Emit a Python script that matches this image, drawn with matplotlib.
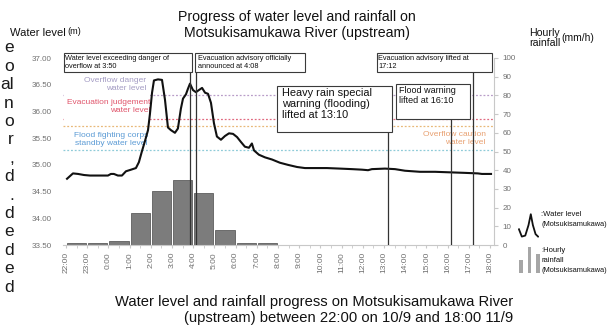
import matplotlib
matplotlib.use("Agg")
import matplotlib.pyplot as plt
import matplotlib.transforms as mtransforms
from matplotlib.patches import Rectangle

plt.rcParams['font.family'] = ['Liberation Sans', 'DejaVu Sans']

# hourly axis, hours counted from 22:00 on 10/9
hour_labels = ['22:00', '23:00', '0:00', '1:00', '2:00', '3:00', '4:00', '5:00',
               '6:00', '7:00', '8:00', '9:00', '10:00', '11:00', '12:00', '13:00',
               '14:00', '15:00', '16:00', '17:00', '18:00']

# hourly rainfall (mm/h), one value per hour interval
rain_mm = [1, 1, 2, 17, 29, 35, 28, 8, 1, 1,
           0, 0, 0, 0, 0, 0, 0, 0, 0, 0]

# water level readings (hours after 22:00, metres)
level_hours = [0.05, 0.33, 0.57, 0.85, 1.13, 1.60, 1.98, 2.12, 2.26, 2.45,
               2.64, 2.83, 3.07, 3.30, 3.44, 3.58, 3.73, 3.87, 3.96, 4.06,
               4.15, 4.34, 4.53, 4.67, 4.81, 4.95, 5.14, 5.28, 5.42, 5.52,
               5.66, 5.75, 5.85, 5.99, 6.13, 6.27, 6.42, 6.56, 6.70, 6.84,
               6.98, 7.12, 7.31, 7.50, 7.69, 7.88, 8.07, 8.25, 8.44, 8.63,
               8.77, 8.87, 9.10, 9.39, 9.72, 10.09, 10.47, 10.90, 11.27, 11.75,
               12.31, 12.92, 13.49, 13.96, 14.25, 14.43, 15.05, 15.52, 15.99, 16.70,
               17.41, 18.11, 18.82, 19.43, 19.62, 20.05]
level_m = [34.74, 34.84, 34.83, 34.81, 34.80, 34.80, 34.80, 34.83, 34.83, 34.80,
           34.80, 34.88, 34.91, 34.94, 35.05, 35.25, 35.45, 35.65, 35.95, 36.35,
           36.58, 36.60, 36.59, 36.22, 35.70, 35.65, 35.60, 35.68, 36.05, 36.24,
           36.32, 36.42, 36.52, 36.40, 36.36, 36.40, 36.44, 36.35, 36.33, 36.16,
           35.78, 35.53, 35.47, 35.54, 35.59, 35.58, 35.52, 35.43, 35.34, 35.32,
           35.40, 35.27, 35.19, 35.14, 35.10, 35.04, 35.00, 34.96, 34.94, 34.94,
           34.94, 34.93, 34.92, 34.91, 34.90, 34.92, 34.93, 34.92, 34.89, 34.87,
           34.87, 34.86, 34.85, 34.84, 34.83, 34.83]

# reference water levels (m)
overflow_danger = 36.31
evacuation_judgement = 35.86
overflow_caution = 35.73
flood_fighting_standby = 35.27

# events (hours after 22:00) and their notes
event_times = [5 + 50 / 60, 6 + 8 / 60, 15 + 10 / 60, 18 + 10 / 60, 19 + 12 / 60]
event_notes = ['Water level exceeding danger of\noverflow at 3:50',
               'Evacuation advisory officially\nannounced at 4:08',
               'Heavy rain special\nwarning (flooding)\nlifted at 13:10',
               'Flood warning\nlifted at 16:10',
               'Evacuation advisory lifted at\n17:12']

W, H = 607, 328
fig = plt.figure(figsize=(W / 100, H / 100), dpi=100)


def fx(x):
    return x / W


def fy(y):
    return 1 - y / H


ax = fig.add_axes([fx(63), fy(245), (494 - 63) / W, (245 - 58) / H])
ax2 = ax.twinx()
ax.set_zorder(ax2.get_zorder() + 1)
ax.patch.set_visible(False)

ax.set_xlim(-0.14, 20.19)
ax.set_ylim(33.5, 37.0)
ax2.set_ylim(0, 100)

# rainfall bars
bar_x = [i + 0.5 for i in range(len(rain_mm))]
ax2.bar(bar_x, rain_mm, width=0.9, color='#7c7c7c', edgecolor='#5e5e5e', linewidth=0.6)

# reference lines
dots = (0, (1.5, 1.5))
ax.axhline(overflow_danger, color='#b89cc8', ls=dots, lw=0.9, zorder=1)
ax.axhline(evacuation_judgement, color='#e06a80', ls=dots, lw=0.9, zorder=1)
ax.axhline(overflow_caution, color='#e8b878', ls=dots, lw=0.9, zorder=1)
ax.axhline(flood_fighting_standby, color='#8fcbd8', ls=dots, lw=0.9, zorder=1)

trans = mtransforms.blended_transform_factory(ax.transData, ax.transAxes)
ax.add_patch(Rectangle((-0.09, 0.658), 4.05, 0.267, transform=trans,
                       facecolor='white', edgecolor='none', zorder=2))

lbl = dict(fontsize=6.0, ha='right', va='center', linespacing=1.25, zorder=3)
ax.text(3.77, 36.51, 'Overflow danger\nwater level', color='#a49cc4', **lbl)
ax.text(3.96, 36.09, 'Evacuation judgement\nwater level', color='#e0566c', **lbl)
ax.text(2.15, 35.47, 'Flood fighting corps\nstandby water level', color='#5b9bd5',
        fontsize=6.0, ha='center', va='center', linespacing=1.25, zorder=3,
        bbox=dict(facecolor='white', edgecolor='none', pad=1))
ax.text(19.8, 35.50, 'Overflow caution\nwater level', color='#e8a070', **lbl)

# water level trace
ax.plot(level_hours, level_m, color='#111111', lw=1.5, zorder=4)

# event boxes: left, right (hours), top, bottom (axes fraction), font size, text pad
boxes = [(-0.09, 5.94, 1.027, 0.925, 5.35, 0.05),
         (6.08, 11.27, 1.027, 0.925, 5.35, 0.14),
         (9.95, 15.38, 0.850, 0.604, 7.9, 0.26),
         (15.57, 19.06, 0.861, 0.674, 6.5, 0.14),
         (14.67, 20.09, 1.027, 0.925, 5.35, 0.05)]
for t, note, (x0, x1, y1, y0, fs, pad) in zip(event_times, event_notes, boxes):
    ax.plot([t, t], [0, y0], transform=trans, color='#333333', lw=0.9, zorder=4)
    ax.add_patch(Rectangle((x0, y0), x1 - x0, y1 - y0, transform=trans,
                           facecolor='white', edgecolor='#3a3a3a', lw=0.8,
                           clip_on=False, zorder=6))
    ax.text(x0 + pad, y1 - 0.012, note, transform=trans, fontsize=fs,
            ha='left', va='top', linespacing=1.12, color='#111111', zorder=7)

# axes styling
for s in ['top', 'left', 'right']:
    ax.spines[s].set_visible(False)
for s in ['top', 'left', 'bottom']:
    ax2.spines[s].set_visible(False)
ax.spines['bottom'].set_color('#c8c8c8')
ax2.spines['right'].set_color('#c8c8c8')

tick_grey = '#707070'
ax.set_xticks(range(len(hour_labels)))
ax.set_xticklabels(hour_labels, rotation=90, fontsize=6.0, color=tick_grey)
ax.set_xticks([i + 0.5 for i in range(len(hour_labels) - 1)], minor=True)
ax.tick_params(axis='x', which='both', length=2, color='#c8c8c8', pad=3)

ax.set_yticks([33.5, 34.0, 34.5, 35.0, 35.5, 36.0, 36.5, 37.0])
ax.set_yticklabels(['%.2f' % v for v in ax.get_yticks()], fontsize=5.8, color=tick_grey)
ax.tick_params(axis='y', length=0, pad=8)

ax2.set_yticks(range(0, 101, 10))
ax2.set_yticklabels([str(v) for v in range(0, 101, 10)], fontsize=5.8, color=tick_grey)
ax2.tick_params(axis='y', length=3, color='#c8c8c8', pad=3)

# titles and axis captions
fig.text(fx(297), fy(25), 'Progress of water level and rainfall on\nMotsukisamukawa River (upstream)',
         ha='center', va='center', fontsize=10.2, linespacing=1.15, color='#111111')
fig.text(fx(10), fy(33), 'Water level', ha='left', va='center', fontsize=8.0, color='#111111')
fig.text(fx(67), fy(32), '(m)', ha='left', va='center', fontsize=6.6, color='#111111')
fig.text(fx(560), fy(38), 'Hourly\nrainfall', ha='right', va='center', fontsize=7.6,
         linespacing=1.05, color='#111111')
fig.text(fx(561), fy(38), '(mm/h)', ha='left', va='center', fontsize=7.4, color='#111111')
fig.text(fx(513), fy(310), 'Water level and rainfall progress on Motsukisamukawa River\n'
         '(upstream) between 22:00 on 10/9 and 18:00 11/9',
         ha='right', va='center', multialignment='right', fontsize=10.6,
         linespacing=1.15, color='#111111')

# legend glyphs
icon_line_x = [0.0, 0.15, 0.33, 0.5, 0.62, 0.73, 0.87, 1.0]
icon_line_y = [0.38, 0.08, 0.12, 0.55, 1.0, 0.55, 0.18, 0.08]
iax = fig.add_axes([fx(518), fy(239), 21 / W, 26 / H])
iax.plot(icon_line_x, icon_line_y, color='#111111', lw=1.3)
iax.set_xlim(-0.05, 1.05)
iax.set_ylim(-0.02, 1.05)
iax.axis('off')

icon_bar_h = [0.5, 1.0, 0.73]
bax = fig.add_axes([fx(518), fy(273), 23 / W, 26 / H])
bax.bar([0, 1, 2], icon_bar_h, width=0.42, color='#a6a6a6')
bax.set_xlim(-0.35, 2.35)
bax.set_ylim(0, 1.0)
bax.axis('off')

fig.text(fx(541), fy(214), ':Water level', fontsize=5.5, ha='left', va='center', color='#111111')
fig.text(fx(541), fy(224), '(Motsukisamukawa)', fontsize=5.3, ha='left', va='center', color='#111111')
fig.text(fx(541), fy(250), ':Hourly', fontsize=5.5, ha='left', va='center', color='#111111')
fig.text(fx(541), fy(260), 'rainfall', fontsize=5.5, ha='left', va='center', color='#111111')
fig.text(fx(541), fy(270), '(Motsukisamukawa)', fontsize=5.3, ha='left', va='center', color='#111111')

# clipped column of neighbouring page text at the left edge
edge_chars = ['e', 'o', 'al', 'n', 'o', 'r', ',', 'd', '.', 'd', 'e', 'd', 'e', 'd']
for i, ch in enumerate(edge_chars):
    fig.text(fx(14), fy(48 + 18.4 * i), ch, fontsize=12.5, ha='right', va='center',
             color='#1a1a1a')

fig.savefig('out.png', dpi=100)
